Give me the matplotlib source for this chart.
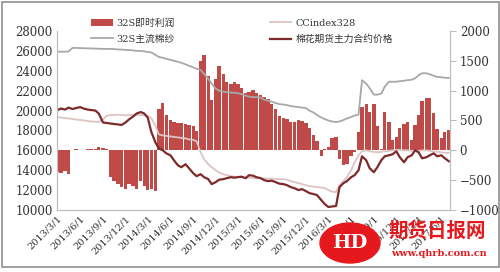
import matplotlib
matplotlib.use('Agg')
import matplotlib.pyplot as plt
import pandas as pd
from matplotlib.patches import Ellipse, Rectangle

# semi-monthly sample dates
dates = pd.date_range('2013-03-01', '2017-07-01', freq='SMS')

# 32S即时利润 (right axis)
profit = [-370, -380, -340, -390, 10, 15, 10, 10, 15, 20,
          30, 50, 40, 30, -450, -520, -560, -620, -650, -560,
          -600, -640, -520, -600, -660, -640, -680, 700, 800, 600,
          500, 470, 450, 460, 440, 420, 400, 330, 1500, 1600,
          1250, 850, 1200, 1420, 1280, 1150, 1120, 1140, 1120, 1050,
          960, 980, 1010, 960, 920, 900, 860, 770, 700, 580,
          550, 530, 480, 470, 500, 490, 450, 380, 250, 160,
          -100, 30, 60, 200, 220, -150, -250, -230, -100, -20,
          300, 720, 780, 640, 780, 400, 30, 640, 480, 170,
          230, 380, 440, 470, 180, 420, 600, 820, 880, 870,
          620, 360, 200, 300, 335]

# 32S主流棉纱
yarn = [25920, 25920, 25920, 25950, 26300, 26300, 26280, 26270, 26250, 26250,
        26230, 26220, 26200, 26200, 26200, 26180, 26150, 26130, 26100, 26090,
        26050, 26000, 26000, 25950, 25900, 25850, 25600, 25400, 25300, 25200,
        25100, 25000, 24900, 24800, 24650, 24500, 24350, 24200, 24080, 23700,
        23200, 22700, 22200, 22000, 21900, 21850, 21800, 21800, 21750, 21650,
        21500, 21400, 21350, 21350, 21300, 21100, 21000, 20900, 20750, 20650,
        20600, 20550, 20450, 20400, 20350, 20300, 20250, 20000, 19800, 19550,
        19300, 19150, 19000, 18900, 18850, 18900, 19050, 19200, 19350, 19500,
        19600, 23050, 22700, 22250, 21600, 21600, 21700, 22400, 22900, 22900,
        22900, 22950, 23000, 23050, 23100, 23250, 23550, 23750, 23750, 23650,
        23500, 23380, 23350, 23300, 23280]

# CCindex328
ccindex = [19350, 19300, 19250, 19200, 19150, 19100, 19050, 19000, 18950, 18900,
           18880, 18850, 19100, 19450, 19550, 19550, 19580, 19550, 19520, 19550,
           19580, 19550, 19550, 19520, 19450, 19250, 18500, 17600, 17500, 17450,
           17400, 17350, 17300, 17250, 17200, 17100, 17050, 16900, 15800, 15100,
           14600, 14300, 14000, 13750, 13600, 13500, 13400, 13350, 13320, 13300,
           13250, 13250, 13220, 13200, 13200, 13180, 13150, 13150, 13120, 13100,
           13100, 13050, 12900, 12800, 12700, 12600, 12500, 12400, 12350, 12300,
           12250, 12200, 12000, 11850, 11800, 12500, 12900, 13300, 14000, 14800,
           15500, 15900, 16000, 15900, 15850, 15800, 15850, 15900, 15950, 16000,
           16050, 16050, 16000, 16000, 15950, 15950, 15950, 16000, 16000, 15950,
           15900, 15850, 15800, 15750, 15750]

# 棉花期货主力合约价格
futures = [20050, 20200, 20100, 20300, 20150, 20250, 20350, 20200, 20100, 20050,
           20000, 19700, 18800, 18750, 18700, 18650, 18600, 18550, 18800, 19100,
           19400, 19700, 19850, 19700, 19300, 17900, 16800, 16200, 16000, 15700,
           15500, 15000, 14500, 14300, 14600, 14200, 13700, 13400, 13600, 13300,
           13100, 12600, 12800, 13050, 13100, 13200, 13300, 13250, 13300, 13350,
           13200, 13500, 13450, 13300, 13200, 13000, 12900, 12950, 12800, 12650,
           12600, 12500, 12300, 12200, 12000, 12100, 11900, 11700, 11600, 11500,
           11000, 10600, 10300, 10350, 10400, 12300, 12700, 12900, 13300, 13500,
           14000, 15400, 15000, 14200, 13800, 14300, 15000, 15400, 15500, 15600,
           15900, 15300, 14800, 15300, 15500, 16000, 15800, 15200, 15300, 15500,
           15700, 15400, 15500, 15200, 14900]

tick_dates = pd.date_range('2013-03-01', '2017-06-01', freq='3MS')
tick_labels = [f"{d.year}/{d.month}/{d.day}" for d in tick_dates]

fig = plt.figure(figsize=(5, 2.72), dpi=100)
ax = fig.add_axes([0.114, 0.228, 0.786, 0.658])
ax2 = ax.twinx()
ax.set_zorder(ax2.get_zorder() + 1)
ax.patch.set_visible(False)

b = ax2.bar(dates, profit, width=13.5, color='#BF4A47', linewidth=0, label='32S即时利润')
ax2.set_ylim(-1000, 2000)
ax2.set_yticks([-1000, -500, 0, 500, 1000, 1500, 2000])

l1, = ax.plot(dates, yarn, color='#A8A8A8', lw=1.3, label='32S主流棉纱')
l2, = ax.plot(dates, ccindex, color='#DCC4C4', lw=1.3, label='CCindex328')
l3, = ax.plot(dates, futures, color='#7E2A2A', lw=1.6, label='棉花期货主力合约价格')
ax.set_ylim(10000, 28000)
ax.set_yticks(range(10000, 28001, 2000))
ax.set_xlim(pd.Timestamp('2013-02-27'), pd.Timestamp('2017-07-06'))
ax.set_xticks(tick_dates)
ax.set_xticklabels(tick_labels, rotation=45, ha='right', rotation_mode='anchor')

for a in (ax, ax2):
    for s in a.spines.values():
        s.set_color('#BFBFBF')
    a.spines['top'].set_visible(False)
ax.tick_params(axis='y', length=0, labelsize=8.5, pad=3)
ax.tick_params(axis='x', length=0, labelsize=7, pad=3)
ax2.tick_params(axis='y', length=4, color='#BFBFBF', labelsize=8.5, pad=3)
for lab in ax.get_yticklabels() + ax.get_xticklabels() + ax2.get_yticklabels():
    lab.set_family('DejaVu Serif')
    lab.set_color('#333333')

fig.legend(handles=[b, l1, l2, l3], loc='upper left', bbox_to_anchor=(0.165, 0.965),
           ncol=2, frameon=False, prop={'family': ['DejaVu Serif', 'Noto Sans CJK SC'], 'size': 7},
           handlelength=2.2, handletextpad=0.4, columnspacing=9.8, labelspacing=0.7,
           labelcolor='#333333')

# outer frame
fig.patches.append(Rectangle((0.003, 0.02), 0.994, 0.972, transform=fig.transFigure,
                             fill=False, edgecolor='#909090', lw=1.2))

# watermark
fig.patches.append(Ellipse((350 / 500, 1 - 243 / 272), 60 / 500, 40 / 272,
                           transform=fig.transFigure, color='#E5191D', zorder=5))
fig.text(350 / 500, 1 - 243 / 272, 'HD', color='white', fontsize=14, fontweight='bold',
         ha='center', va='center', family='DejaVu Serif', zorder=6)
fig.text(437 / 500, 1 - 231 / 272, '期货日报网', color='#E5191D', fontsize=14,
         fontweight='bold', ha='center', va='center', family='Noto Sans CJK SC', zorder=6)
fig.text(439 / 500, 1 - 254 / 272, 'www.qhrb.com.cn', color='#E5191D', fontsize=7,
         fontweight='bold', ha='center', va='center', family='DejaVu Serif', zorder=6)

fig.savefig('out.png', dpi=100)
